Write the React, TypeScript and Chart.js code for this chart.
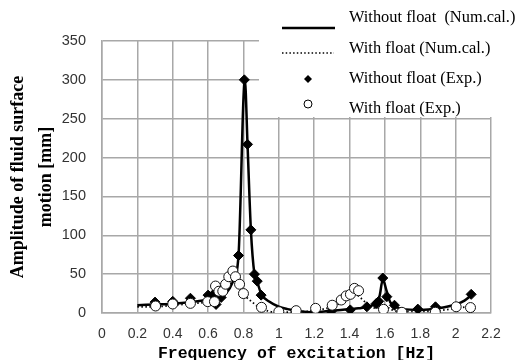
import React, { useEffect, useRef } from "react";
import { Chart, registerables } from "chart.js";

Chart.register(...registerables);

// Numerical calculation, without float
const calcNoFloatX = [0.2, 0.3, 0.4, 0.5, 0.6, 0.65, 0.7, 0.74, 0.772, 0.808, 0.823, 0.842, 0.862, 0.878, 0.9, 0.95, 1.0, 1.05, 1.1, 1.2, 1.3, 1.4, 1.45, 1.5, 1.55, 1.57, 1.588, 1.61, 1.63, 1.66, 1.7, 1.8, 1.9, 2.0, 2.05, 2.1];
const calcNoFloatY = [10, 11, 12, 14, 17, 19, 25, 40, 74, 300, 217, 107, 50, 40, 25, 14, 8, 5, 3, 1, 3, 5, 6, 8, 13, 22, 43, 28, 14, 8, 5, 4, 6, 11, 16, 25];

// Numerical calculation, with float
const calcFloatX = [0.2, 0.3, 0.4, 0.5, 0.6, 0.65, 0.7, 0.72, 0.74, 0.76, 0.78, 0.8, 0.85, 0.9, 0.95, 1.0, 1.1, 1.2, 1.3, 1.35, 1.4, 1.43, 1.46, 1.5, 1.55, 1.6, 1.63, 1.7, 1.8, 1.9, 2.0, 2.1];
const calcFloatY = [8, 8, 10, 12, 14, 16, 28, 38, 46, 47, 38, 26, 14, 6, 2, 1, 1.5, 3, 8, 13, 20, 25, 20, 12, 6, 10, 5, 2, 2, 3, 6, 9];

// Experiment, without float
const expNoFloatX = [0.3, 0.4, 0.5, 0.6, 0.63, 0.645, 0.674, 0.772, 0.805, 0.823, 0.842, 0.862, 0.878, 0.9, 1.2, 1.296, 1.404, 1.498, 1.55, 1.565, 1.588, 1.611, 1.654, 1.786, 1.886, 2.088];
const expNoFloatY = [14, 15, 19, 23, 24, 11, 20, 74, 300, 217, 107, 50, 41, 23, 1, 2, 4, 8, 12, 15, 45, 21, 10, 5, 8, 24];

// Experiment, with float
const expFloatX = [0.303, 0.4, 0.5, 0.598, 0.636, 0.642, 0.661, 0.683, 0.699, 0.717, 0.74, 0.755, 0.778, 0.8, 0.902, 1.0, 1.098, 1.208, 1.302, 1.353, 1.381, 1.405, 1.428, 1.451, 1.592, 1.696, 1.885, 2.003, 2.084];
const expFloatY = [9, 11.6, 12.4, 14.6, 14.6, 34.7, 28, 28, 37, 46.7, 54, 46.7, 37, 25, 7.3, 1.7, 3, 6, 10, 16.7, 22, 24, 31.7, 28.7, 4.7, 0.9, 1, 8, 7];

const legendLabels = ["Without float  (Num.cal.)", "With float (Num.cal.)", "Without float (Exp.)", "With float (Exp.)"];
const yTitleLines = ["Amplitude of fluid surface", "motion [mm]"];
const xTitle = "Frequency of excitation [Hz]";

const toPoints = (xs: number[], ys: number[]) => xs.map((x, i) => ({ x, y: ys[i] }));

const legendPlugin = {
  id: "paperLegend",
  afterDraw(chart: any) {
    const ctx = chart.ctx as CanvasRenderingContext2D;
    ctx.save();
    ctx.fillStyle = "#ffffff";
    ctx.fillRect(259, 0, 263, 117);
    // solid line sample
    ctx.strokeStyle = "#000";
    ctx.lineWidth = 2.5;
    ctx.beginPath();
    ctx.moveTo(282, 28);
    ctx.lineTo(335, 28);
    ctx.stroke();
    // dotted line sample
    ctx.lineWidth = 1.6;
    ctx.setLineDash([1.5, 2.2]);
    ctx.beginPath();
    ctx.moveTo(282, 53);
    ctx.lineTo(334, 53);
    ctx.stroke();
    ctx.setLineDash([]);
    // diamond
    ctx.fillStyle = "#000";
    ctx.beginPath();
    ctx.moveTo(308, 75);
    ctx.lineTo(312, 79);
    ctx.lineTo(308, 83);
    ctx.lineTo(304, 79);
    ctx.closePath();
    ctx.fill();
    // circle
    ctx.fillStyle = "#fff";
    ctx.lineWidth = 1;
    ctx.beginPath();
    ctx.arc(308, 104, 4, 0, Math.PI * 2);
    ctx.fill();
    ctx.stroke();
    // texts
    ctx.fillStyle = "#000";
    ctx.font = "16.4px 'Liberation Serif', serif";
    ctx.textBaseline = "middle";
    ctx.textAlign = "left";
    const ys = [18, 49, 79, 109];
    legendLabels.forEach((t, i) => ctx.fillText(t, 349, ys[i]));
    ctx.restore();
  },
};

export default function App() {
  const ref = useRef<HTMLCanvasElement>(null);
  useEffect(() => {
    if (!ref.current) return;
    const gridColor = "#a8a8a8";
    const chart = new Chart(ref.current, {
      type: "scatter",
      data: {
        datasets: [
          {
            label: legendLabels[3],
            data: toPoints(expFloatX, expFloatY),
            showLine: false,
            pointStyle: "circle",
            pointRadius: 5,
            pointBackgroundColor: "#ffffff",
            pointBorderColor: "#111",
            pointBorderWidth: 1,
            order: 0,
          },
          {
            label: legendLabels[2],
            data: toPoints(expNoFloatX, expNoFloatY),
            showLine: false,
            pointStyle: "rectRot",
            pointRadius: 5,
            pointBackgroundColor: "#000",
            pointBorderColor: "#000",
            pointBorderWidth: 1,
            order: 1,
          },
          {
            label: legendLabels[0],
            data: toPoints(calcNoFloatX, calcNoFloatY),
            showLine: true,
            borderColor: "#000",
            borderWidth: 2.5,
            pointRadius: 0,
            cubicInterpolationMode: "monotone",
            order: 2,
          },
          {
            label: legendLabels[1],
            data: toPoints(calcFloatX, calcFloatY),
            showLine: true,
            borderColor: "#000",
            borderWidth: 1.8,
            borderDash: [1.5, 2.5],
            pointRadius: 0,
            cubicInterpolationMode: "monotone",
            order: 3,
          },
        ],
      },
      options: {
        responsive: false,
        animation: false,
        events: [],
        layout: { padding: { top: 41, right: 31, bottom: 0, left: 0 } },
        plugins: { legend: { display: false }, tooltip: { enabled: false } },
        scales: {
          x: {
            type: "linear",
            min: 0,
            max: 2.2,
            afterFit: (s: any) => {
              s.height = 47;
            },
            ticks: {
              stepSize: 0.2,
              padding: 13,
              color: "#333",
              font: { family: "'Liberation Sans', sans-serif", size: 14 },
              callback: (v: any) => String(Number(Number(v).toFixed(1))),
            },
            grid: { color: gridColor, lineWidth: 1.5, drawTicks: false },
            border: { color: gridColor, width: 1.5 },
            title: {
              display: true,
              text: xTitle,
              color: "#000",
              padding: { top: 0, bottom: 0 },
              font: { family: "'Liberation Mono', monospace", size: 16.5, weight: "bold", lineHeight: 0.8 },
            },
          },
          y: {
            type: "linear",
            min: 0,
            max: 350,
            afterFit: (s: any) => {
              s.width = 102;
            },
            ticks: {
              stepSize: 50,
              padding: 16,
              color: "#333",
              font: { family: "'Liberation Sans', sans-serif", size: 14.5 },
            },
            grid: { color: gridColor, lineWidth: 1.5, drawTicks: false },
            border: { color: gridColor, width: 1.5 },
            title: {
              display: true,
              text: yTitleLines,
              color: "#000",
              padding: { top: 4, bottom: 0 },
              font: { family: "'Liberation Serif', serif", size: 18, weight: "bold", lineHeight: 1.556 },
            },
          },
        },
      },
      plugins: [legendPlugin],
    });
    return () => chart.destroy();
  }, []);
  return (
    <div style={{ position: "fixed", left: 0, top: 0, width: 522, height: 360 }}>
      <canvas ref={ref} width={522} height={360} />
    </div>
  );
}
